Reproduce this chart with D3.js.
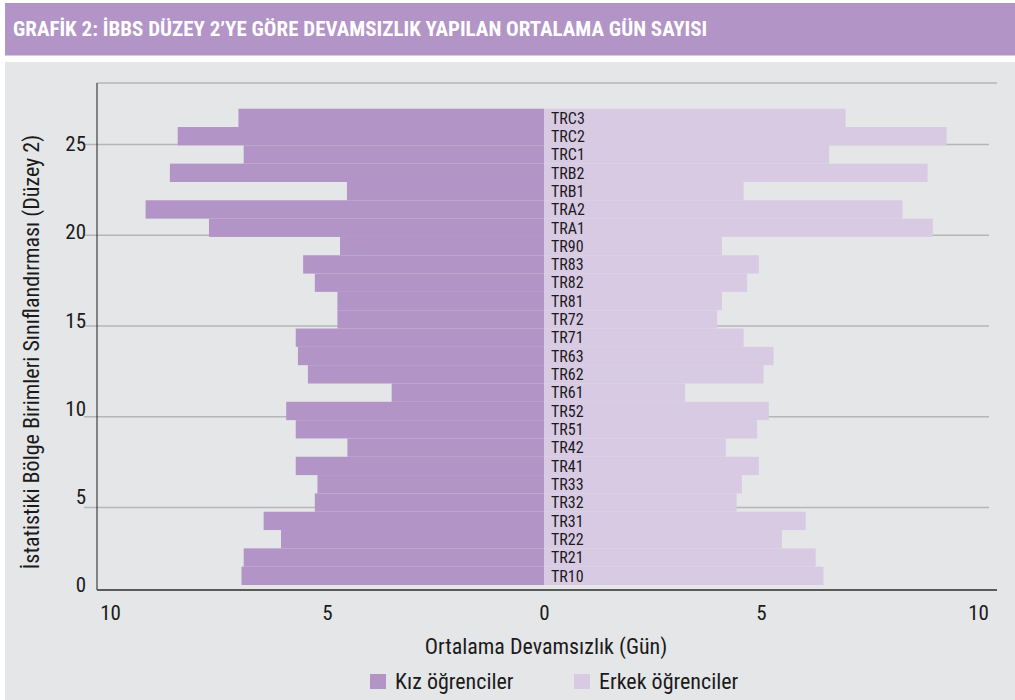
<!DOCTYPE html>
<html>
<head>
<meta charset="utf-8">
<script src="https://cdn.jsdelivr.net/npm/d3@7"></script>
<style>
    body { margin: 0; background: #fff; }
    text { font-family: 'Roboto Condensed', 'Roboto', sans-serif; }
</style>
</head>
<body>
<svg id="chart" width="1015" height="700"></svg>
<script>
// bottom to top, as on the y axis
var regions = ['TR10', 'TR21', 'TR22', 'TR31', 'TR32', 'TR33', 'TR41', 'TR42', 'TR51', 'TR52',
               'TR61', 'TR62', 'TR63', 'TR71', 'TR72', 'TR81', 'TR82', 'TR83', 'TR90', 'TRA1',
               'TRA2', 'TRB1', 'TRB2', 'TRC1', 'TRC2', 'TRC3'];
var girls  = [6.97, 6.92, 6.06, 6.46, 5.28, 5.22, 5.72, 4.53, 5.72, 5.94,
              3.51, 5.44, 5.67, 5.72, 4.76, 4.76, 5.28, 5.55, 4.70, 7.72,
              9.18, 4.54, 8.62, 6.92, 8.44, 7.04];
var boys   = [6.44, 6.26, 5.48, 6.03, 4.44, 4.56, 4.95, 4.19, 4.91, 5.18,
              3.25, 5.06, 5.29, 4.60, 3.99, 4.10, 4.68, 4.95, 4.10, 8.96,
              8.26, 4.60, 8.84, 6.57, 9.28, 6.95];
var xTicks = [-10, -5, 0, 5, 10];
var yTicks = [0, 5, 10, 15, 20, 25];

var title   = 'GRAFİK 2: İBBS DÜZEY 2’YE GÖRE DEVAMSIZLIK YAPILAN ORTALAMA GÜN SAYISI';
var xTitle  = 'Ortalama Devamsızlık (Gün)';
var yTitle  = 'İstatistiki Bölge Birimleri Sınıflandırması (Düzey 2)';
var legend  = ['Kız öğrenciler', 'Erkek öğrenciler'];

var colors = { girls: '#b294c7', boys: '#d9cae3', panel: '#e5e6e8', grid: '#b6b6b8' };

var rows = regions.map((r, i) => ({ region: r, girls: girls[i], boys: boys[i] }));

var svg = d3.select('#chart');

// header band + grey panel
svg.append('rect')
    .attr('x', 5).attr('y', 3)
    .attr('width', 1010).attr('height', 52.5)
    .attr('fill', colors.girls)
;
svg.append('text')
    .attr('x', 13).attr('y', 36)
    .attr('fill', '#fff')
    .style('font-weight', 'bold')
    .style('font-size', '21px')
    .text(title)
;
svg.append('rect')
    .attr('x', 5).attr('y', 62)
    .attr('width', 1010).attr('height', 638)
    .attr('fill', colors.panel)
;

var frame = { left: 97, right: 997, top: 83, bottom: 590 };

var x = d3.scaleLinear().domain([-10, 10]).range([110, 978]);
var y = d3.scaleLinear().domain([0, 27]).range([585, 108.7]);
// the grid of the original sits on a slightly stretched copy of the y scale
var yGrid = d3.scaleLinear().domain([0, 25]).range([597.7, 144]);
var band = d3.scaleBand().domain(regions).range([y(0), y(27)]).padding(0);

// grid lines
svg.append('g')
    .attr('class', 'grid')
    .attr('transform', `translate(${ frame.left }, 0)`)
    .call(d3.axisLeft(yGrid).tickValues(yTicks.filter(t => t > 0)).tickSize(-(989 - frame.left)).tickSizeOuter(0).tickFormat(''))
    .call(g => g.select('.domain').remove())
    .call(g => g.selectAll('line').attr('x1', -13).attr('stroke', colors.grid).attr('stroke-width', 1.5))
;

// top line
svg.append('line')
    .attr('x1', frame.left).attr('x2', frame.right)
    .attr('y1', frame.top).attr('y2', frame.top)
    .attr('stroke', colors.grid).attr('stroke-width', 1.5)
;

// bars
var bars = svg.append('g').attr('class', 'bars')
    .selectAll('.row')
    .data(rows)
;

bars.enter().append('g')
    .attr('class', 'row')
    .attr('transform', d => `translate(0, ${ band(d.region) })`)
    .each(function (d) {
        var _this = d3.select(this);

        _this.append('rect')
            .attr('x', x(-d.girls))
            .attr('width', x(0) - x(-d.girls))
            .attr('height', band.bandwidth())
            .attr('fill', colors.girls)
        ;

        _this.append('rect')
            .attr('x', x(0))
            .attr('width', x(d.boys) - x(0))
            .attr('height', band.bandwidth())
            .attr('fill', colors.boys)
        ;

        _this.append('text')
            .attr('x', x(0) + 7)
            .attr('y', band.bandwidth() / 2)
            .attr('dy', '0.36em')
            .attr('fill', '#1b1b1b')
            .style('font-size', '16px')
            .text(d.region)
        ;
    })
;

// axes lines
svg.append('line')
    .attr('x1', frame.left).attr('x2', frame.left)
    .attr('y1', frame.top).attr('y2', frame.bottom)
    .attr('stroke', '#1e1e1e').attr('stroke-width', 1)
;
svg.append('line')
    .attr('x1', frame.left).attr('x2', frame.right)
    .attr('y1', frame.bottom).attr('y2', frame.bottom)
    .attr('stroke', '#5a5a5a').attr('stroke-width', 2)
;

// y tick labels
svg.append('g')
    .attr('class', 'y-axis')
    .attr('transform', 'translate(86, 0)')
    .call(d3.axisLeft(y).tickValues(yTicks).tickSize(0).tickPadding(0))
    .call(g => g.select('.domain').remove())
    .call(g => g.selectAll('text').attr('fill', '#1b1b1b').style('font-size', '21px').style('font-family', null))
;

// x tick labels
svg.append('g')
    .attr('class', 'x-axis')
    .attr('transform', 'translate(0, 605)')
    .call(d3.axisBottom(x).tickValues(xTicks).tickSize(0).tickPadding(0).tickFormat(d => Math.abs(d)))
    .call(g => g.select('.domain').remove())
    .call(g => g.selectAll('text').attr('fill', '#1b1b1b').style('font-size', '21px').style('font-family', null))
;

// axis titles
svg.append('text')
    .attr('x', x(0) + 2).attr('y', 654)
    .attr('text-anchor', 'middle')
    .attr('fill', '#1b1b1b')
    .style('font-size', '22px')
    .text(xTitle)
;
svg.append('text')
    .attr('transform', 'translate(39, 352) rotate(-90)')
    .attr('text-anchor', 'middle')
    .attr('fill', '#1b1b1b')
    .style('font-size', '22px')
    .text(yTitle)
;

// legend
var legendItems = svg.append('g')
    .attr('class', 'legend')
    .selectAll('.legend__item')
    .data(legend)
;

legendItems.enter().append('g')
    .attr('class', 'legend__item')
    .attr('transform', (d, i) => `translate(${ 370 + i * 204 }, 674)`)
    .each(function (d, i) {
        var _this = d3.select(this);

        _this.append('rect')
            .attr('width', 16).attr('height', 15)
            .attr('fill', i === 0 ? colors.girls : colors.boys)
        ;

        _this.append('text')
            .attr('x', 25).attr('y', 14.5)
            .attr('fill', '#1b1b1b')
            .style('font-size', '22px')
            .text(d)
        ;
    })
;
</script>
</body>
</html>
